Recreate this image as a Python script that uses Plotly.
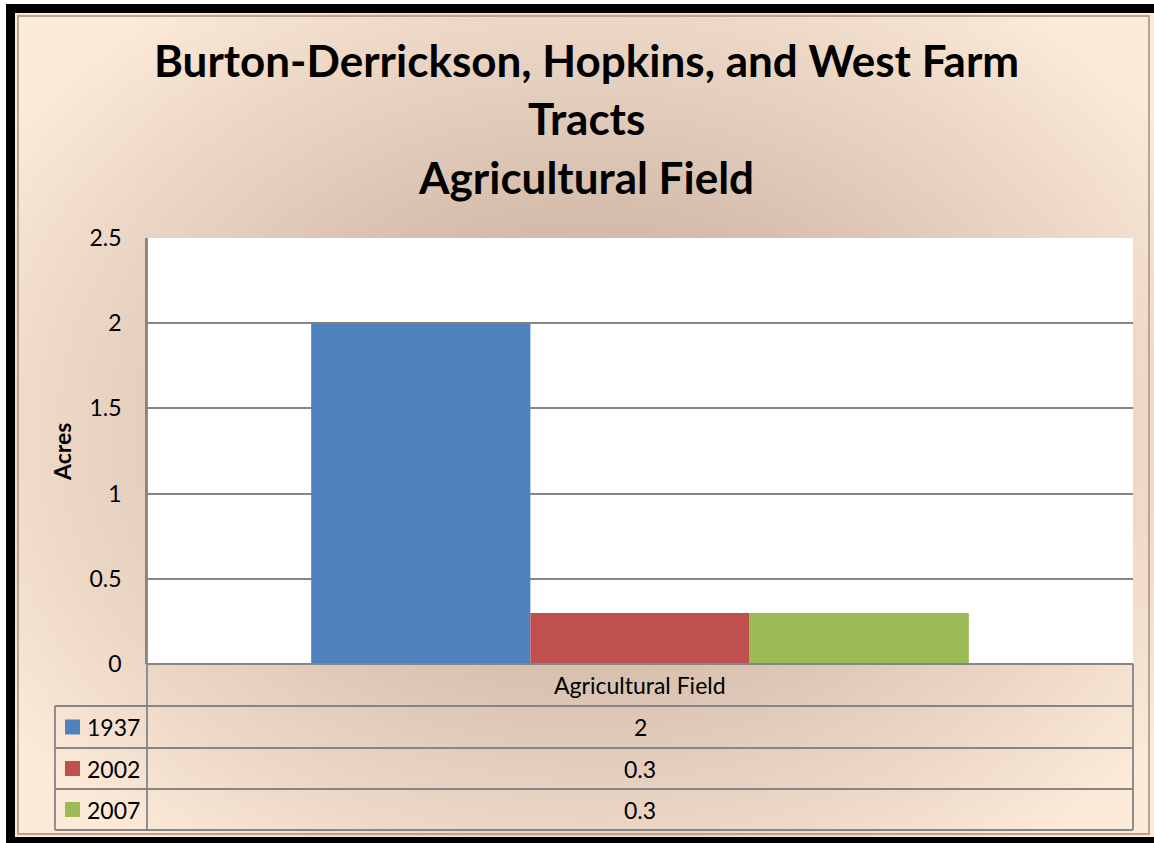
import base64
import struct
import zlib

import numpy as np
import plotly.graph_objects as go

# ---- data -------------------------------------------------------------
categories = ["Agricultural Field"]
series_names = ["1937", "2002", "2007"]
series_values = [[2], [0.3], [0.3]]
series_colors = ["#4F81BD", "#C0504D", "#9BBB59"]
title_lines = ["Burton-Derrickson, Hopkins, and West Farm", "Tracts", "Agricultural Field"]
y_ticks = [0, 0.5, 1, 1.5, 2, 2.5]
y_tick_text = ["0", "0.5", "1", "1.5", "2", "2.5"]
y_title = "Acres"

# ---- page geometry (pixels) --------------------------------------------
W, H = 1154, 843
PL, PR, PT, PB = 147, 1133, 238, 664  # plot area edges
ROW_Y = [664, 706, 748, 789, 830]     # data table row boundaries
KEY_X = 55                            # left edge of the series-name column
FONT = "Lato, 'Open Sans', sans-serif"
GRID = "#868686"
TXT = 23


def px(x):
    return (x - PL) / (PR - PL)


def py(y):
    return (PB - y) / (PB - PT)


def png_uri(arr):
    h, w, _ = arr.shape
    raw = b"".join(b"\x00" + arr[i].tobytes() for i in range(h))

    def chunk(tag, data):
        c = struct.pack(">I", len(data)) + tag + data
        return c + struct.pack(">I", zlib.crc32(tag + data) & 0xFFFFFFFF)

    png = (b"\x89PNG\r\n\x1a\n"
           + chunk(b"IHDR", struct.pack(">IIBBBBB", w, h, 8, 2, 0, 0, 0))
           + chunk(b"IDAT", zlib.compress(raw, 9))
           + chunk(b"IEND", b""))
    return "data:image/png;base64," + base64.b64encode(png).decode()


# radial chart-area fill: darker taupe centre fading to peach edges
gx0, gy0, gx1, gy1 = 15, 13, 1154, 837
gw, gh = (gx1 - gx0) // 2, (gy1 - gy0) // 2
xs = np.linspace(gx0, gx1, gw)
ys = np.linspace(gy0, gy1, gh)
XX, YY = np.meshgrid(xs, ys)
r = np.sqrt(((XX - 590) / 700) ** 2 + ((YY - 430) / 540) ** 2)
t = np.clip(r, 0, 1) ** 1.1
c0 = np.array([0xBF, 0xA4, 0x94], float)
c1 = np.array([0xFD, 0xEA, 0xD8], float)
grad = (c0[None, None, :] * (1 - t[..., None]) + c1[None, None, :] * t[..., None]).astype(np.uint8)

fig = go.Figure()
for name, vals, col in zip(series_names, series_values, series_colors):
    fig.add_trace(go.Bar(x=categories, y=vals, name=name, marker=dict(color=col, line=dict(width=0))))

shapes = []


def line(x0, y0, x1, y1, color=GRID, width=1.8):
    shapes.append(dict(type="line", xref="paper", yref="paper", x0=px(x0), y0=py(y0),
                       x1=px(x1), y1=py(y1), line=dict(color=color, width=width), layer="above"))


def rect(x0, y0, x1, y1, fill, layer="above", lc=None, lw=0):
    shapes.append(dict(type="rect", xref="paper", yref="paper", x0=px(x0), y0=py(y0),
                       x1=px(x1), y1=py(y1), fillcolor=fill, layer=layer,
                       line=dict(color=lc or fill, width=lw)))


# white plot area over the gradient
rect(PL, PT, PR, PB, "white", layer="below")

# data table grid
line(PL, ROW_Y[0], PR, ROW_Y[0])
for yb in ROW_Y[1:]:
    line(KEY_X, yb, PR, yb)
line(PL, PT, PL, ROW_Y[-1])
line(PR, ROW_Y[0], PR, ROW_Y[-1])
line(KEY_X, ROW_Y[1], KEY_X, ROW_Y[-1])

# outer frame
rect(18, 16, 1149, 834, "rgba(0,0,0,0)", lc="#b8a497", lw=2)
rect(6, 4, 15, 843, "black")
rect(6, 4, W + 2, 13, "black")
rect(6, 837, W + 2, 843, "black")

annotations = []
for txt, yc in zip(title_lines, [60, 118, 177]):
    annotations.append(dict(text=f"<b>{txt}</b>", xref="paper", yref="paper", x=px(586), y=py(yc),
                            xanchor="center", yanchor="middle", showarrow=False,
                            font=dict(family=FONT, size=44, color="black")))

annotations.append(dict(text=f"<b>{y_title}</b>", xref="paper", yref="paper", x=px(62), y=py(452),
                        xanchor="center", yanchor="middle", textangle=-90, showarrow=False,
                        font=dict(family=FONT, size=TXT, color="black")))

# table header and cells
annotations.append(dict(text=categories[0], xref="paper", yref="paper", x=px((PL + PR) / 2),
                        y=py((ROW_Y[0] + ROW_Y[1]) / 2), xanchor="center", yanchor="middle",
                        showarrow=False, font=dict(family=FONT, size=TXT, color="black")))
for i, (name, vals, col) in enumerate(zip(series_names, series_values, series_colors)):
    yc = (ROW_Y[i + 1] + ROW_Y[i + 2]) / 2
    rect(65, yc - 7.5, 80, yc + 7.5, col)
    annotations.append(dict(text=name, xref="paper", yref="paper", x=px(85), y=py(yc),
                            xanchor="left", yanchor="middle", showarrow=False,
                            font=dict(family=FONT, size=TXT, color="black")))
    annotations.append(dict(text=f"{vals[0]:g}", xref="paper", yref="paper", x=px((PL + PR) / 2), y=py(yc),
                            xanchor="center", yanchor="middle", showarrow=False,
                            font=dict(family=FONT, size=TXT, color="black")))

fig.update_layout(
    width=W, height=H,
    margin=dict(l=PL, r=W - PR, t=PT, b=H - PB, pad=0),
    paper_bgcolor="white", plot_bgcolor="white",
    barmode="group", bargap=0.333, bargroupgap=0,
    showlegend=False,
    images=[dict(source=png_uri(grad), xref="paper", yref="paper", x=px(gx0), y=py(gy0),
                 sizex=(gx1 - gx0) / (PR - PL), sizey=(gy1 - gy0) / (PB - PT),
                 sizing="stretch", xanchor="left", yanchor="top", layer="below")],
    shapes=shapes,
    annotations=annotations,
    xaxis=dict(showticklabels=False, showgrid=False, zeroline=False, showline=False, ticks=""),
    yaxis=dict(range=[0, 2.5], tickvals=y_ticks, ticktext=y_tick_text, showgrid=True,
               gridcolor=GRID, gridwidth=1.8, zeroline=False, showline=True, linecolor=GRID,
               linewidth=1.8, ticks="", ticklabelstandoff=19,
               tickfont=dict(family=FONT, size=TXT, color="black")),
)

fig.write_html("out.html")
